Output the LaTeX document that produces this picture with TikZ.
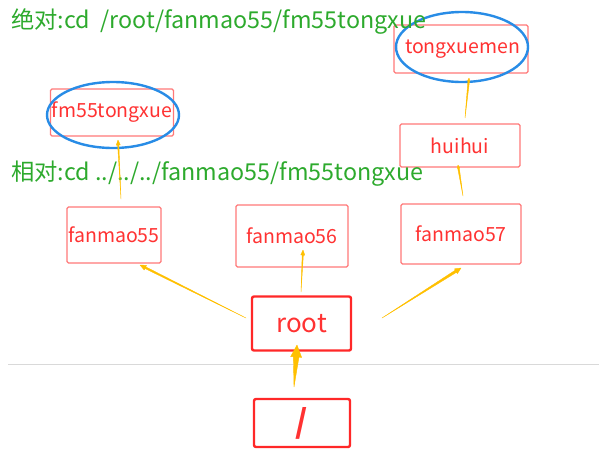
\documentclass[tikz,border=0pt]{standalone}
\usepackage{fontspec}
\setmainfont{Noto Sans CJK SC}
\usetikzlibrary{calc}
\definecolor{boxred}{RGB}{255,120,120}
\definecolor{strongred}{RGB}{255,40,40}
\definecolor{txtred}{RGB}{255,50,50}
\definecolor{grn}{RGB}{45,170,45}
\definecolor{arrowc}{RGB}{255,192,0}
\definecolor{ellblue}{RGB}{40,140,230}
\newcommand\taper[5]{%
  \path ($(#2)!#5!(#1)$) coordinate (tmpH);
  \filldraw[arrowc,line width=0.4pt,line join=round] (#1) -- ($(tmpH)!#3!90:(#1)$) -- ($(tmpH)!#4!90:(#1)$) -- (#2) -- ($(tmpH)!#4!-90:(#1)$) -- ($(tmpH)!#3!-90:(#1)$) -- cycle;}
\tikzset{
  lbox/.style={draw=boxred,line width=1.2pt,rounded corners=1.5pt,text=txtred,inner sep=0pt,font=\fontsize{19.5}{22}\selectfont},
  sbox/.style={draw=strongred,line width=2.4pt,rounded corners=2pt,text=txtred,inner sep=0pt},
  gtext/.style={text=grn,anchor=west,inner sep=0pt,font=\fontsize{23.3}{25}\selectfont}
}
\begin{document}
\begin{tikzpicture}[x=1pt,y=-1pt]
\useasboundingbox[fill=white] (0,0) rectangle (599,456);
\draw[black!15,line width=0.8pt] (8,364) -- (599,364);
% boxes
\node[lbox,minimum width=134pt,minimum height=48pt] (tx) at (461,49) {\hspace{3pt}tongxuemen};
\node[lbox,minimum width=120pt,minimum height=43pt] (hh) at (460,145.5) {huihui\hspace{8pt}};
\node[lbox,minimum width=123pt,minimum height=47pt] (fm) at (112,112.5) {fm55tongxue};
\node[lbox,minimum width=94pt,minimum height=56pt] (f55) at (114,235) {fanmao55};
\node[lbox,minimum width=112pt,minimum height=62pt] (f56) at (292,236) {fanmao56};
\node[lbox,minimum width=120pt,minimum height=60pt] (f57) at (461,234) {fanmao57};
\node[sbox,minimum width=99pt,minimum height=54pt,font=\fontsize{26}{28}\selectfont] (root) at (301.5,323.5) {root\hspace{14pt}};
\node[sbox,minimum width=96pt,minimum height=48pt,font=\fontsize{32}{34}\selectfont] (sl) at (302,423) {\raisebox{-3pt}{\textbf{/}}};
% ellipses
\draw[ellblue,line width=2.4pt] (462,47) ellipse [x radius=66pt, y radius=35pt];
\draw[ellblue,line width=2.4pt] (113,115) ellipse [x radius=66pt, y radius=33pt];
% green texts
\node[gtext] (abs) at (11,21) {绝对:cd\ \ /root/fanmao55/fm55tongxue};
\node[gtext] (rel) at (11,174) {相对:cd ../../../fanmao55/fm55tongxue};
% connector end points
\coordinate (a1t) at (246,318); \coordinate (a1h) at (140,265);
\coordinate (a2t) at (301,292); \coordinate (a2h) at (303,250);
\coordinate (a3t) at (382,318); \coordinate (a3h) at (461,268);
\coordinate (a4t) at (294,387); \coordinate (a4h) at (297,345);
\coordinate (a5t) at (121,199); \coordinate (a5h) at (118,140);
\coordinate (a6t) at (463,196); \coordinate (a6h) at (458,165);
\coordinate (a7t) at (465,118); \coordinate (a7h) at (469,78);
\taper{a1t}{a1h}{0.9pt}{2.6pt}{6pt}
\taper{a2t}{a2h}{0.6pt}{2pt}{5pt}
\taper{a3t}{a3h}{1.2pt}{2.8pt}{6pt}
\taper{a4t}{a4h}{2.8pt}{5.5pt}{12pt}
\taper{a5t}{a5h}{0.6pt}{2pt}{5pt}
\taper{a6t}{a6h}{0.8pt}{1.2pt}{3pt}
\taper{a7t}{a7h}{0.8pt}{1.2pt}{3pt}
\end{tikzpicture}
\end{document}
